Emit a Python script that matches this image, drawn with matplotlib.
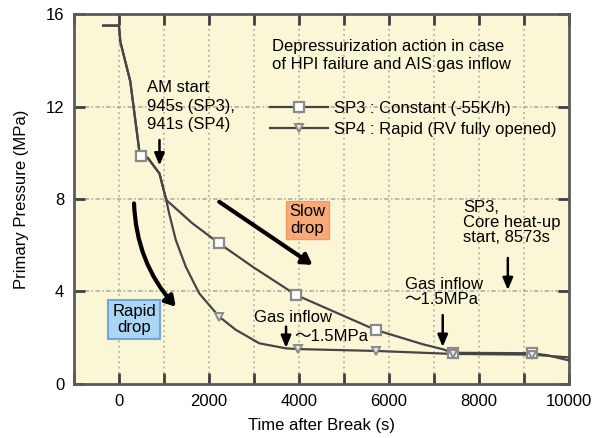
"""
Primary pressure after break: SP3 (constant -55K/h) vs SP4 (rapid RV open)
"""

import matplotlib
matplotlib.use("Agg")
import matplotlib.pyplot as plt
from matplotlib.ticker import MultipleLocator

# --- DATA ---
sp3_time = [-350, 0, 30, 250, 450, 483, 640, 900, 1050, 1630, 2227, 2970, 3935,
            5702, 6750, 7200, 7424, 9170, 9500, 10000]
sp3_pres = [15.5, 15.5, 14.8, 13.1, 10.1, 9.86, 9.78, 9.1, 7.96, 6.95, 6.08, 5.07, 3.85,
            2.34, 1.72, 1.5, 1.35, 1.33, 1.25, 1.02]

sp4_time = [-350, 0, 30, 250, 450, 483, 640, 900, 1050, 1114, 1262, 1485, 1782, 2227,
            2598, 3118, 3712, 3971, 5702, 7424, 9170, 10000]
sp4_pres = [15.5, 15.5, 14.8, 13.1, 10.1, 9.86, 9.78, 9.1, 7.96, 7.38, 6.23, 5.07, 3.92, 2.91,
            2.34, 1.76, 1.54, 1.51, 1.43, 1.3, 1.27, 1.15]

sp3_mark_time = [483, 2227, 3935, 5702, 7424, 9170]
sp3_mark_pres = [9.86, 6.08, 3.85, 2.34, 1.35, 1.33]
sp4_mark_time = [2227, 3971, 5702, 7424, 9170]
sp4_mark_pres = [2.91, 1.51, 1.43, 1.3, 1.27]

AM_START = 900
GAS_INFLOW_SP4 = 3712
GAS_INFLOW_SP3 = 7194
CORE_HEATUP = 8641

LINE_COLOR = "#454545"
BG_COLOR = "#fbf7d6"
GRID_COLOR = "#a8a8a0"
FONT = ["Liberation Sans", "Noto Sans CJK JP", "DejaVu Sans"]

plt.rcParams["font.family"] = FONT
plt.rcParams["font.size"] = 12

fig = plt.figure(figsize=(6.03, 4.38), dpi=100)
ax = fig.add_axes([0.1227, 0.1233, 0.8209, 0.8447])
ax.set_facecolor(BG_COLOR)

# grid: dotted verticals every 1000 s, dash-dot horizontals
for xv in range(0, 10000, 1000):
    ax.axvline(xv, color=GRID_COLOR, lw=1.1, ls=(0, (1.2, 2.2)), zorder=1)
for yv in [4, 8, 12]:
    ax.axhline(yv, color=GRID_COLOR, lw=1.1, ls=(0, (3, 1.5, 1, 1.5)), zorder=1)

# curves
ax.plot(sp3_time, sp3_pres, color=LINE_COLOR, lw=1.6, zorder=3)
ax.plot(sp4_time, sp4_pres, color=LINE_COLOR, lw=1.6, zorder=3)
ax.plot(sp3_mark_time, sp3_mark_pres, ls="none", marker="s", ms=7, mfc="white",
        mec="#8a8a8a", mew=1.6, zorder=4)
ax.plot(sp4_mark_time, sp4_mark_pres, ls="none", marker="v", ms=6, mfc="#e8e8e8",
        mec="#8a8a8a", mew=1.4, zorder=5)

ax.set_xlim(-1000, 10000)
ax.set_ylim(0, 16)
ax.xaxis.set_major_locator(MultipleLocator(2000))
ax.xaxis.set_minor_locator(MultipleLocator(1000))
ax.set_yticks([0, 4, 8, 12, 16])
ax.tick_params(axis="both", which="both", direction="in", color="#404040",
               width=2, top=True, right=True, labelsize=12, pad=7)
ax.tick_params(axis="both", which="major", length=8)
ax.tick_params(axis="x", which="minor", length=8)
for sp in ax.spines.values():
    sp.set_color("#5a5a5a")
    sp.set_linewidth(2)

ax.set_xlabel("Time after Break (s)", fontsize=12, labelpad=7)
ax.set_ylabel("Primary Pressure (MPa)", fontsize=12, labelpad=12)

# legend
ax.text(3400, 14.94, "Depressurization action in case\nof HPI failure and AIS gas inflow",
        ha="left", va="top", fontsize=12, linespacing=1.3)
h3, = ax.plot([], [], color=LINE_COLOR, lw=1.6, marker="s", ms=7, mfc="white",
              mec="#8a8a8a", mew=1.6)
h4, = ax.plot([], [], color=LINE_COLOR, lw=1.6, marker="v", ms=6, mfc="#e8e8e8",
              mec="#8a8a8a", mew=1.4)
ax.legend([h3, h4], ["SP3 : Constant (-55K/h)", "SP4 : Rapid (RV fully opened)"],
          loc="upper left", bbox_to_anchor=(0.396, 0.766), frameon=False, fontsize=12,
          handlelength=3.5, handletextpad=0.35, labelspacing=0.4, borderpad=0,
          borderaxespad=0, numpoints=1)

arrow_thin = dict(arrowstyle="-|>,head_length=0.6,head_width=0.25", color="black", lw=1.8,
                  shrinkA=0, shrinkB=0)
arrow_thick = dict(arrowstyle="-|>,head_length=0.5,head_width=0.3", color="black", lw=3,
                   shrinkA=0, shrinkB=0)

# AM start
ax.text(624, 13.15, "AM start\n945s (SP3),\n941s (SP4)", ha="left", va="top",
        fontsize=12, linespacing=1.3)
ax.annotate("", xy=(AM_START, 9.45), xytext=(AM_START, 10.55), arrowprops=arrow_thin)

# slow / rapid drop
ax.text(4187, 7.09, "Slow\ndrop", ha="center", va="center", fontsize=12, linespacing=1.1,
        bbox=dict(boxstyle="square,pad=0.2", fc="#f7a978", ec="#f19a68", lw=1))
ax.annotate("", xy=(4300, 5.15), xytext=(2227, 7.88), arrowprops=arrow_thick)
ax.text(334, 2.79, "Rapid\ndrop", ha="center", va="center", fontsize=12, linespacing=1.1,
        bbox=dict(boxstyle="square,pad=0.25", fc="#a9d6f2", ec="#6fa8d8", lw=1.5))
ax.annotate("", xy=(1262, 3.34), xytext=(334, 7.81),
            arrowprops=dict(arrow_thick, connectionstyle="arc3,rad=0.18"))

# gas inflow SP4
ax.text(3007, 3.2, "Gas inflow", ha="left", va="top", fontsize=12)
ax.text(3898, 2.38, "〜1.5MPa", ha="left", va="top", fontsize=12)
ax.annotate("", xy=(GAS_INFLOW_SP4, 1.56), xytext=(GAS_INFLOW_SP4, 2.48), arrowprops=arrow_thin)

# gas inflow SP3
ax.text(6347, 4.63, "Gas inflow\n〜1.5MPa", ha="left", va="top", fontsize=12,
        linespacing=1.0)
ax.annotate("", xy=(GAS_INFLOW_SP3, 1.6), xytext=(GAS_INFLOW_SP3, 2.98), arrowprops=arrow_thin)

# core heat-up
ax.text(7640, 7.96, "SP3,\nCore heat-up\nstart, 8573s", ha="left", va="top", fontsize=12,
        linespacing=1.0)
ax.annotate("", xy=(CORE_HEATUP, 4.06), xytext=(CORE_HEATUP, 5.45), arrowprops=arrow_thin)

fig.savefig("out.png", dpi=100)
